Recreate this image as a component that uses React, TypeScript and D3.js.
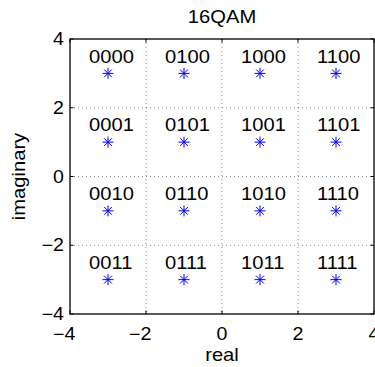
import React from "react";
import * as d3 from "d3";

const title = "16QAM";
const xLabel = "real";
const yLabel = "imaginary";
const pointsI = [-3, -1, 1, 3, -3, -1, 1, 3, -3, -1, 1, 3, -3, -1, 1, 3];
const pointsQ = [3, 3, 3, 3, 1, 1, 1, 1, -1, -1, -1, -1, -3, -3, -3, -3];
const bitLabels = [
  "0000", "0100", "1000", "1100",
  "0001", "0101", "1001", "1101",
  "0010", "0110", "1010", "1110",
  "0011", "0111", "1011", "1111",
];
const xTicks = [-4, -2, 0, 2, 4];
const yTicks = [-4, -2, 0, 2, 4];
const gridVals = [-2, 0, 2];
const labelOffsetX = -0.5;
const labelOffsetY = 0.5;

const W = 375;
const H = 367;
const left = 70;
const right = 374;
const top = 39;
const bottom = 314;
const font = "'Liberation Sans', Arial, Helvetica, sans-serif";
const fs = 18;
const fsTick = 17.5;
const sx = 1.12;

function T({ x, y, anchor, size, children, rotate }: any) {
  const tr = rotate
    ? `translate(${x},${y}) rotate(-90) scale(${sx},1)`
    : `translate(${x},${y}) scale(${sx},1)`;
  return (
    <text transform={tr} textAnchor={anchor} fontFamily={font} fontSize={size} fill="#000">
      {children}
    </text>
  );
}

export default function App() {
  const x = d3.scaleLinear().domain([-4, 4]).range([left, right]);
  const y = d3.scaleLinear().domain([-4, 4]).range([bottom, top]);
  const r = 5.5;
  const star = (cx: number, cy: number) => {
    const d = r * Math.SQRT1_2;
    return `M${cx - r},${cy}L${cx + r},${cy}M${cx},${cy - r}L${cx},${cy + r}M${cx - d},${cy - d}L${cx + d},${cy + d}M${cx - d},${cy + d}L${cx + d},${cy - d}`;
  };
  const digitW = fsTick * 0.556 * sx;
  const tick = 3.5;
  return (
    <svg width={W} height={H} style={{ position: "absolute", left: 0, top: 0, background: "#fff" }}>
      <rect x={0} y={0} width={W} height={H} fill="#fff" />
      {gridVals.map((v) => (
        <g key={"g" + v}>
          <line x1={x(v)} x2={x(v)} y1={top} y2={bottom} stroke="#8a8a8a" strokeWidth={1} strokeDasharray="1,3" />
          <line x1={left} x2={right} y1={y(v)} y2={y(v)} stroke="#8a8a8a" strokeWidth={1} strokeDasharray="1,3" />
        </g>
      ))}
      {xTicks.map((v) => (
        <g key={"xt" + v}>
          <line x1={x(v)} x2={x(v)} y1={bottom} y2={bottom - tick} stroke="#000" />
          <line x1={x(v)} x2={x(v)} y1={top} y2={top + tick} stroke="#000" />
          <T x={v < 0 ? x(v) + digitW / 2 : x(v)} y={340} anchor={v < 0 ? "end" : "middle"} size={fsTick}>
            {v < 0 ? "\u2212" + Math.abs(v) : String(v)}
          </T>
        </g>
      ))}
      {yTicks.map((v) => (
        <g key={"yt" + v}>
          <line x1={left} x2={left + tick} y1={y(v)} y2={y(v)} stroke="#000" />
          <line x1={right} x2={right - tick} y1={y(v)} y2={y(v)} stroke="#000" />
          <T x={64} y={y(v) + 6.2} anchor="end" size={fsTick}>
            {v < 0 ? "\u2212" + Math.abs(v) : String(v)}
          </T>
        </g>
      ))}
      <rect x={left} y={top} width={right - left} height={bottom - top} fill="none" stroke="#000" strokeWidth={1.3} />
      {pointsI.map((p, i) => (
        <g key={"p" + i}>
          <path d={star(x(p), y(pointsQ[i]))} stroke="#0000ff" strokeWidth={1} fill="none" />
          <T x={x(p + labelOffsetX)} y={y(pointsQ[i] + labelOffsetY) + 6.4} anchor="start" size={fs}>
            {bitLabels[i]}
          </T>
        </g>
      ))}
      <T x={(left + right) / 2} y={23} anchor="middle" size={fs}>
        {title}
      </T>
      <T x={(left + right) / 2} y={361} anchor="middle" size={fs}>
        {xLabel}
      </T>
      <T x={25} y={(top + bottom) / 2} anchor="middle" size={fs} rotate>
        {yLabel}
      </T>
    </svg>
  );
}
